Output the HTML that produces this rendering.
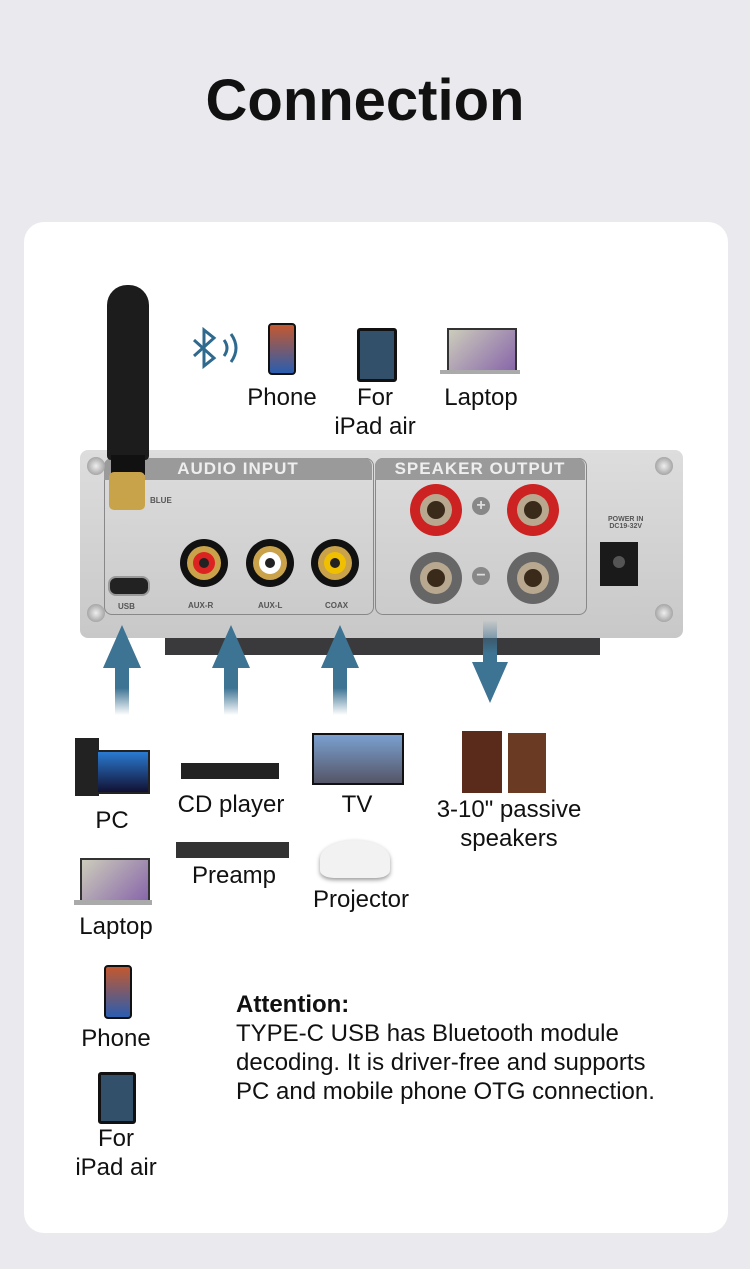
<!DOCTYPE html>
<html><head><meta charset="utf-8"><style>
body{margin:0;width:750px;height:1269px;background:#e9e9ee;position:relative;overflow:hidden;font-family:"Liberation Sans",sans-serif;color:#111}
.a{position:absolute}
.t{position:absolute;font-size:24px;text-align:center;line-height:29px;white-space:nowrap;width:200px}
.card{left:24px;top:222px;width:704px;height:1011px;background:#fff;border-radius:20px}
.jack{position:absolute;border-radius:50%;width:48px;height:48px;background:#111;}
.jack i{position:absolute;left:7px;top:7px;width:34px;height:34px;border-radius:50%;background:#c9a24a}
.jack b{position:absolute;left:13px;top:13px;width:22px;height:22px;border-radius:50%}
.jack u{position:absolute;left:19px;top:19px;width:10px;height:10px;border-radius:50%;background:#222}
.post{position:absolute;width:52px;height:52px;border-radius:50%}
.post i{position:absolute;left:10px;top:10px;width:32px;height:32px;border-radius:50%;background:#b8a890}
.post u{position:absolute;left:17px;top:17px;width:18px;height:18px;border-radius:50%;background:#3a2a1a}
.lbl{position:absolute;font-size:8px;font-weight:bold;color:#555}
.screw{position:absolute;width:18px;height:18px;border-radius:50%;background:radial-gradient(#eee,#888)}
</style></head><body>
<div class="t" style="left:0;width:730px;top:66px;font-size:58px;font-weight:bold;line-height:70px">Connection</div>
<div class="a card"></div>
<div class="a" style="left:165px;top:628px;width:435px;height:27px;background:#3a3a3c"></div>
<div class="a" style="left:80px;top:450px;width:603px;height:188px;background:linear-gradient(#ddd,#c8c8c8);border-radius:8px"></div>
<div class="a" style="left:104px;top:458px;width:268px;height:155px;border:1px solid #888;border-radius:8px"></div>
<div class="a" style="left:104px;top:458px;width:268px;height:22px;background:#9a9a9a;border-radius:8px 8px 0 0;color:#eee;font-weight:bold;font-size:17px;line-height:22px;text-align:center;letter-spacing:1px">AUDIO INPUT</div>
<div class="a" style="left:375px;top:458px;width:210px;height:155px;border:1px solid #888;border-radius:8px"></div>
<div class="a" style="left:375px;top:458px;width:210px;height:22px;background:#9a9a9a;border-radius:8px 8px 0 0;color:#eee;font-weight:bold;font-size:17px;line-height:22px;text-align:center;letter-spacing:1px">SPEAKER OUTPUT</div>
<div class="screw" style="left:87px;top:457px"></div><div class="screw" style="left:655px;top:457px"></div>
<div class="screw" style="left:87px;top:604px"></div><div class="screw" style="left:655px;top:604px"></div>
<div class="a" style="left:108px;top:576px;width:38px;height:16px;border-radius:8px;background:#222;border:2px solid #999"></div>
<div class="lbl" style="left:118px;top:602px">USB</div><div class="lbl" style="left:188px;top:601px">AUX-R</div><div class="lbl" style="left:258px;top:601px">AUX-L</div><div class="lbl" style="left:325px;top:601px">COAX</div>
<div class="lbl" style="left:150px;top:496px">BLUE</div>
<div class="jack" style="left:180px;top:539px"><i></i><b style="background:#d22"></b><u></u></div>
<div class="jack" style="left:246px;top:539px"><i></i><b style="background:#fff"></b><u></u></div>
<div class="jack" style="left:311px;top:539px"><i></i><b style="background:#f0c000"></b><u></u></div>
<div class="post" style="left:410px;top:484px;background:#c22"><i></i><u></u></div>
<div class="post" style="left:507px;top:484px;background:#c22"><i></i><u></u></div>
<div class="post" style="left:410px;top:552px;background:#666"><i></i><u></u></div>
<div class="post" style="left:507px;top:552px;background:#666"><i></i><u></u></div>
<div class="a" style="left:472px;top:497px;width:18px;height:18px;border-radius:50%;background:#888;color:#ddd;font-weight:bold;text-align:center;line-height:18px">+</div>
<div class="a" style="left:472px;top:567px;width:18px;height:18px;border-radius:50%;background:#888;color:#ddd;font-weight:bold;text-align:center;line-height:18px">−</div>
<div class="lbl" style="left:608px;top:516px;font-size:7px;text-align:center">POWER IN<br>DC19-32V</div>
<div class="a" style="left:600px;top:542px;width:38px;height:44px;background:#1a1a1a"></div>
<div class="a" style="left:613px;top:556px;width:12px;height:12px;border-radius:50%;background:#555"></div>
<div class="a" style="left:107px;top:285px;width:42px;height:175px;background:#1c1c1c;border-radius:20px 20px 4px 4px"></div>
<div class="a" style="left:111px;top:455px;width:34px;height:20px;background:#111"></div>
<div class="a" style="left:109px;top:472px;width:36px;height:38px;background:#c9a34a;border-radius:5px"></div>
<svg class="a" style="left:0;top:0" width="750" height="1269">
<defs><linearGradient id="g" x1="0" y1="0" x2="0" y2="1"><stop offset="0" stop-color="#3d7393"/><stop offset=".7" stop-color="#3d7393"/><stop offset="1" stop-color="#3d7393" stop-opacity="0"/></linearGradient>
<linearGradient id="g2" x1="0" y1="0" x2="0" y2="1"><stop offset="0" stop-color="#3d7393" stop-opacity="0"/><stop offset=".4" stop-color="#3d7393"/></linearGradient></defs>
<g fill="url(#g)">
<path d="M122 625 L141 668 L129 668 L129 715 L115 715 L115 668 L103 668Z"/>
<path d="M231 625 L250 668 L238 668 L238 715 L224 715 L224 668 L212 668Z"/>
<path d="M340 625 L359 668 L347 668 L347 715 L333 715 L333 668 L321 668Z"/>
</g>
<path fill="url(#g2)" d="M483 620 L497 620 L497 662 L508 662 L490 703 L472 662 L483 662Z"/>
<path d="M194 340 L214 358 L204 366 L204 330 L214 338 L194 356" fill="none" stroke="#2f6a8e" stroke-width="3"/>
<path d="M224 340 Q230 348 224 356 M231 334 Q241 348 231 362" fill="none" stroke="#2f6a8e" stroke-width="3"/>
</svg>
<div class="a" style="left:268px;top:323px;width:24px;height:48px;background:linear-gradient(#c4582f,#2a5db0);border:2px solid #111;border-radius:4px"></div>
<div class="a" style="left:357px;top:328px;width:34px;height:48px;background:#33506a;border:3px solid #111;border-radius:3px"></div>
<div class="a" style="left:447px;top:328px;width:66px;height:40px;background:linear-gradient(135deg,#ccb,#86a);border:2px solid #333"></div>
<div class="a" style="left:440px;top:370px;width:80px;height:4px;background:#aaa"></div>
<div class="t" style="left:182px;top:383px">Phone</div>
<div class="t" style="left:275px;top:383px">For<br>iPad air</div>
<div class="t" style="left:381px;top:383px">Laptop</div>
<div class="a" style="left:75px;top:738px;width:24px;height:58px;background:#222"></div>
<div class="a" style="left:96px;top:750px;width:50px;height:40px;background:linear-gradient(#2a7ad0,#113);border:2px solid #222"></div>
<div class="t" style="left:12px;top:806px">PC</div>
<div class="a" style="left:80px;top:858px;width:66px;height:40px;background:linear-gradient(135deg,#ccb,#86a);border:2px solid #333"></div>
<div class="a" style="left:74px;top:900px;width:78px;height:5px;background:#aaa"></div>
<div class="t" style="left:16px;top:912px">Laptop</div>
<div class="a" style="left:104px;top:965px;width:24px;height:50px;background:linear-gradient(#c4582f,#2a5db0);border:2px solid #111;border-radius:4px"></div>
<div class="t" style="left:16px;top:1024px">Phone</div>
<div class="a" style="left:98px;top:1072px;width:32px;height:46px;background:#33506a;border:3px solid #111;border-radius:3px"></div>
<div class="t" style="left:16px;top:1124px">For<br>iPad air</div>
<div class="a" style="left:181px;top:763px;width:98px;height:16px;background:#222"></div>
<div class="t" style="left:131px;top:790px">CD player</div>
<div class="a" style="left:176px;top:842px;width:113px;height:16px;background:#333"></div>
<div class="t" style="left:134px;top:861px">Preamp</div>
<div class="a" style="left:312px;top:733px;width:88px;height:48px;background:linear-gradient(#7aa0d0,#556);border:2px solid #111"></div>
<div class="t" style="left:257px;top:790px">TV</div>
<div class="a" style="left:320px;top:840px;width:70px;height:38px;background:#f2f2f2;border-radius:50% 50% 20% 20%;box-shadow:0 2px 4px #999"></div>
<div class="t" style="left:261px;top:885px">Projector</div>
<div class="a" style="left:462px;top:731px;width:40px;height:62px;background:#5a2a1a"></div>
<div class="a" style="left:508px;top:733px;width:38px;height:60px;background:#6a3a22"></div>
<div class="t" style="left:409px;top:795px">3-10" passive<br>speakers</div>
<div class="a" style="left:236px;top:990px;font-size:24px;line-height:29px;white-space:nowrap"><b>Attention:</b><br>TYPE-C USB has Bluetooth module<br>decoding. It is driver-free and supports<br>PC and mobile phone OTG connection.</div>
</body></html>
